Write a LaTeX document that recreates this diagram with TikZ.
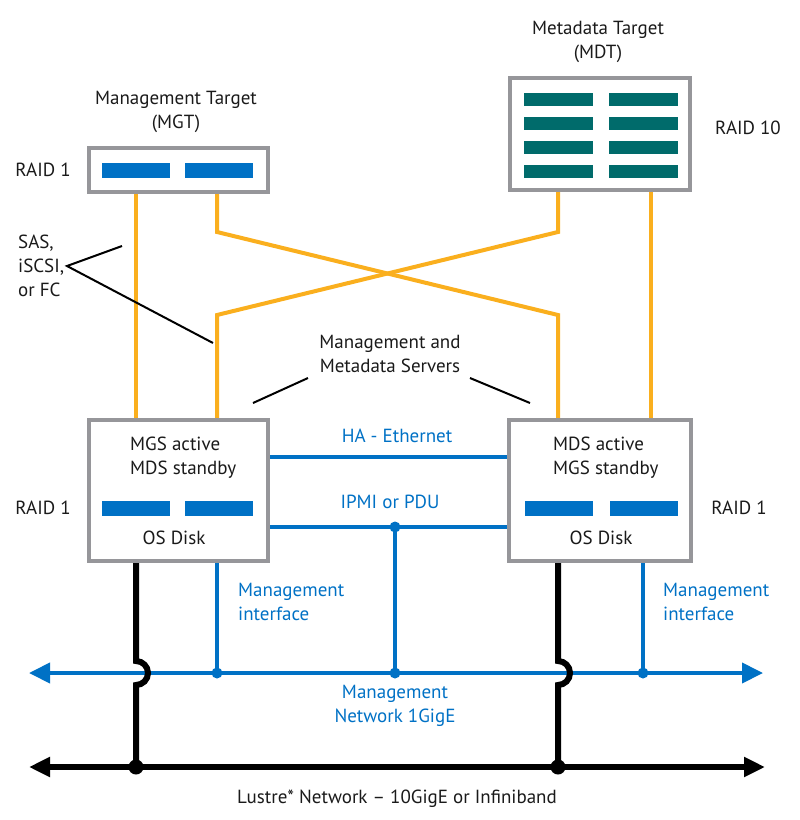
\documentclass[tikz,border=0pt]{standalone}
\usepackage{fontspec}
\setmainfont{PT Sans}
\usetikzlibrary{arrows.meta}
\definecolor{iblue}{HTML}{0071C5}
\definecolor{iorange}{HTML}{FAAF1E}
\definecolor{iteal}{HTML}{006B6B}
\definecolor{igray}{HTML}{96969A}
\definecolor{itext}{HTML}{1A1A1A}
\pgfdeclarelayer{bg}
\pgfsetlayers{bg,main}
\begin{document}
\begin{tikzpicture}[x=1pt,y=-1pt,
  box/.style={draw=igray,line width=4pt,fill=white,inner sep=0pt,outer sep=0pt},
  bluebar/.style={fill=iblue,minimum width=68pt,minimum height=15pt,inner sep=0pt,outer sep=0pt},
  tealbar/.style={fill=iteal,minimum width=69pt,minimum height=13pt,inner sep=0pt,outer sep=0pt},
  lbl/.style={font=\fontsize{19}{24}\selectfont,inner sep=0pt,align=center,text=itext},
  blbl/.style={lbl,text=iblue},
  sasline/.style={draw=iorange,line width=4pt},
  ethline/.style={draw=iblue,line width=4pt},
  lusline/.style={draw=black,line width=6pt},
  noteline/.style={draw=black,line width=2pt},
  bdot/.style={circle,fill=iblue,minimum size=11pt,inner sep=0pt},
  kdot/.style={circle,fill=black,minimum size=15pt,inner sep=0pt},
  bluearrow/.style={-{Triangle[length=21pt,width=20pt]}},
]
\useasboundingbox (0,0) rectangle (800,820);

% ---------- boxes ----------
\node[box,minimum width=179pt,minimum height=44pt] (mgt) at (178.5,170) {};
\node[box,minimum width=180pt,minimum height=112pt] (mdt) at (600,134) {};
\node[box,minimum width=179pt,minimum height=141pt] (mgs) at (178.5,490.5) {};
\node[box,minimum width=182pt,minimum height=141pt] (mds) at (600,490.5) {};

% bars
\node[bluebar] (mgtb1) at (136,170.5) {};
\node[bluebar] (mgtb2) at (219,170.5) {};
\node[tealbar] (mdtb1) at (558.5,99.5) {};
\node[tealbar] (mdtb2) at (643.5,99.5) {};
\node[tealbar] (mdtb3) at (558.5,123.5) {};
\node[tealbar] (mdtb4) at (643.5,123.5) {};
\node[tealbar] (mdtb5) at (558.5,147.5) {};
\node[tealbar] (mdtb6) at (643.5,147.5) {};
\node[tealbar] (mdtb7) at (558.5,171.5) {};
\node[tealbar] (mdtb8) at (643.5,171.5) {};
\node[bluebar] (mgsb1) at (136,508.5) {};
\node[bluebar] (mgsb2) at (219,508.5) {};
\node[bluebar] (mdsb1) at (558.5,508.5) {};
\node[bluebar] (mdsb2) at (643.5,508.5) {};

% ---------- texts ----------
\node[lbl] (mdtlbl) at (598,42) {Metadata Target\\(MDT)};
\node[lbl] (mgtlbl) at (176,112) {Management Target\\(MGT)};
\node[lbl] (raid10) at (748,128) {RAID 10};
\node[lbl] (raidmgt) at (43,170) {RAID 1};
\node[lbl,align=left,anchor=west] (saslbl) at (18,266) {SAS,\\iSCSI,\\or FC};
\node[lbl] (srvlbl) at (390,354) {Management and\\Metadata Servers};
\node[lbl,align=left,anchor=west] (mgstxt) at (130,457.5) {MGS active\\MDS standby};
\node[lbl,align=left,anchor=west] (mdstxt) at (553,457.5) {MDS active\\MGS standby};
\node[lbl] (osd1) at (174,538) {OS Disk};
\node[lbl] (osd2) at (601,538) {OS Disk};
\node[lbl] (raidl) at (43,508) {RAID 1};
\node[lbl] (raidr) at (739,508) {RAID 1};
\node[blbl] (halbl) at (397,436) {HA - Ethernet};
\node[blbl] (ipmilbl) at (390,502) {IPMI or PDU};
\node[blbl,align=left,anchor=west] (mi1lbl) at (238,601.5) {Management\\interface};
\node[blbl,align=left,anchor=west] (mi2lbl) at (663,601.5) {Management\\interface};
\node[blbl] (mnetlbl) at (395,706) {Management\\Network 1GigE};
\node[lbl] (luslbl) at (397,799) {Lustre* Network – 10GigE or Infiniband};

% ---------- coordinates ----------
\coordinate (ka) at (217,232);
\coordinate (kb) at (558,315);
\coordinate (kc) at (558,232);
\coordinate (kd) at (217,315);
\coordinate (mnL) at (29,673);
\coordinate (mnR) at (763,673);
\coordinate (lnL) at (29,767);
\coordinate (lnR) at (765,767);
\coordinate (j1) at (217,673);
\coordinate (j2) at (395,673);
\coordinate (j3) at (643,673);
\coordinate (j4) at (395,527);
\coordinate (l1) at (136,767);
\coordinate (l2) at (558,767);
\coordinate (sasv) at (67,266);
\coordinate (sasa) at (122,246);
\coordinate (sasb) at (213,343);
\coordinate (srva) at (308,378);
\coordinate (srvb) at (253,403);
\coordinate (srvc) at (470,378);
\coordinate (srvd) at (530,403);

\begin{pgfonlayer}{bg}
% storage links
\draw[sasline] (mgt.south -| mgsb1) -- (mgs.north -| mgsb1);
\draw[sasline] (mgt.south -| ka) -- (ka) -- (kb) -- (mds.north -| kb);
\draw[sasline] (mdt.south -| kc) -- (kc) -- (kd) -- (mgs.north -| kd);
\draw[sasline] (mdt.south -| 651,0) -- (mds.north -| 651,0);
% ethernet
\draw[ethline] (mgs.east |- 0,457) -- (mds.west |- 0,457);
\draw[ethline] (mgs.east |- j4) -- (mds.west |- j4);
\draw[ethline] (j4) -- (j2);
\draw[ethline] (mgs.south -| j1) -- (j1);
\draw[ethline] (mds.south -| j3) -- (j3);
\draw[ethline,bluearrow] (j2) -- (mnL);
\draw[ethline,bluearrow] (j2) -- (mnR);
% lustre
\draw[lusline] (mgs.south -| l1) -- (136,661) arc[start angle=-90,end angle=90,radius=12] -- (l1);
\draw[lusline] (mds.south -| l2) -- (558,661) arc[start angle=-90,end angle=90,radius=12] -- (l2);
\draw[lusline,-{Triangle[length=21pt,width=19pt]}] (l1) -- (lnL);
\draw[lusline,-{Triangle[length=21pt,width=19pt]}] (l1) -- (lnR);
\end{pgfonlayer}

% annotation lines
\draw[noteline] (sasa) -- (sasv) -- (sasb);
\draw[noteline] (srva) -- (srvb);
\draw[noteline] (srvc) -- (srvd);

% dots
\node[bdot] (d1) at (j1) {};
\node[bdot] (d2) at (j2) {};
\node[bdot] (d3) at (j3) {};
\node[bdot] (d4) at (j4) {};
\node[kdot] (d5) at (l1) {};
\node[kdot] (d6) at (l2) {};
\end{tikzpicture}
\end{document}
